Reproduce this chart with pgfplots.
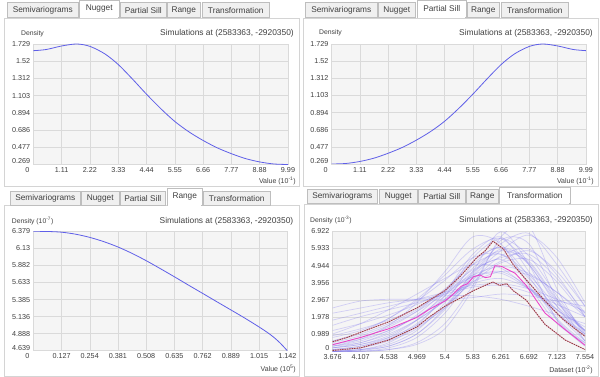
\documentclass[border=0pt]{standalone}
\usepackage{fontspec}
\setmainfont{Liberation Sans}
\usepackage{pgfplots}
\usepackage{pgfplotstable}
\pgfplotsset{compat=1.18}
\definecolor{plotbg}{RGB}{245,245,245}
\definecolor{gridc}{RGB}{218,218,218}
\definecolor{labc}{RGB}{64,64,64}
\definecolor{curve}{RGB}{95,95,232}
\definecolor{simc}{RGB}{125,115,240}
\definecolor{brn}{RGB}{140,60,60}
\definecolor{pinkish}{RGB}{220,150,175}
\definecolor{mag}{RGB}{235,65,200}
\definecolor{tabfill}{RGB}{240,240,240}
\definecolor{tabline}{RGB}{190,190,190}
\definecolor{framec}{RGB}{212,212,212}

\pgfplotsset{panel/.style={scale only axis, anchor=south west,
  axis background/.style={fill=plotbg},
  grid=major, major grid style={draw=gridc, line width=0.5pt},
  axis line style={draw=gridc, line width=0.5pt},
  major tick length=0pt, tick style={draw=none},
  tick label style={font=\fontsize{7.2}{8}\selectfont, text=labc, inner sep=1pt},
  xticklabel style={yshift=-2pt}, yticklabel style={xshift=-2pt},
  /pgf/number format/assume math mode=true}}

\tikzset{tab/.style={draw=tabline, line width=0.5pt, fill=tabfill, anchor=south west, inner sep=0pt,
  font=\fontsize{8.3}{10}\selectfont, text=labc},
  lab/.style={inner sep=0pt, text=labc}}

\pgfplotstableread{
x nug
0 1.648
0.5 1.662
1.11 1.705
1.7 1.729
2.22 1.700
2.8 1.610
3.33 1.480
3.9 1.300
4.44 1.120
5.0 0.945
5.55 0.790
6.1 0.665
6.66 0.560
7.22 0.470
7.77 0.400
8.33 0.340
8.88 0.300
9.44 0.275
9.99 0.269
}\nugtab

\pgfplotstableread{
x ps
0 0.269
0.55 0.275
1.11 0.300
1.66 0.340
2.22 0.400
2.77 0.470
3.33 0.560
3.89 0.665
4.44 0.790
4.99 0.945
5.55 1.120
6.09 1.300
6.66 1.480
7.19 1.610
7.77 1.700
8.29 1.729
8.88 1.705
9.49 1.662
9.99 1.648
}\pstab

\pgfplotstableread{
x rg
0 6.379
0.063 6.3765
0.127 6.366
0.19 6.337
0.254 6.290
0.317 6.228
0.381 6.150
0.444 6.057
0.508 5.950
0.571 5.835
0.635 5.715
0.698 5.594
0.762 5.473
0.825 5.353
0.889 5.232
0.952 5.112
1.015 4.985
1.05 4.910
1.08 4.838
1.11 4.750
1.142 4.639
}\rgtab

\pgfplotstableread{
x c1 c2 c3 c4 c5 c6 c7 c8 c9 c10 c11 c12 c13 c14 c15 c16 c17 c18 c19 c20 c21 c22 c23 c24 c25 c26 c27 c28 c29 c30
3.676 0.0 0.1 0.4 0.9 0.2 1.5 0.0 0.6 0.3 2.5 0.0 1.0 0.1 0.8 0.2 1.8 0.0 0.5 0.3 0.0 0.0 0.3 0.6 0.0 1.2 0.2 2.2 0.1 0.4 0.0
4.107 0.05 0.3 0.8 1.3 0.5 2.0 0.1 1.0 0.6 2.9 0.2 1.6 0.2 1.2 0.4 2.2 0.1 0.9 0.5 0.0 0.0 0.7 1.1 0.1 1.6 0.4 2.5 0.3 0.7 0.0
4.538 0.3 0.8 1.4 1.8 1.1 2.4 0.5 1.6 1.2 3.0 0.7 2.4 0.6 1.9 0.9 2.6 0.3 1.5 1.0 0.1 0.1 1.5 1.9 0.4 2.1 0.8 2.8 0.7 1.2 0.2
4.969 1.0 1.8 2.3 2.5 2.1 2.8 1.5 2.4 2.0 3.0 1.6 3.3 1.3 2.9 1.8 3.0 1.0 2.3 1.8 0.5 0.4 2.8 3.0 1.2 2.7 1.5 3.0 1.4 2.0 0.8
5.4 2.5 3.4 3.6 3.4 3.5 3.3 3.2 3.5 3.0 3.0 3.0 4.2 2.6 4.1 2.9 3.4 2.4 3.3 2.9 1.6 1.3 4.6 4.4 2.8 3.5 2.6 3.2 2.5 3.2 2.2
5.83 4.6 5.6 5.0 4.3 5.2 3.7 5.4 4.7 4.0 3.1 4.6 5.0 4.5 5.4 3.9 3.8 4.4 4.3 4.2 3.8 3.6 6.6 5.9 5.0 4.4 4.0 3.2 4.1 4.8 4.3
6.261 6.9 6.6 5.6 4.5 6.0 3.8 6.5 5.4 4.6 3.3 5.3 4.8 6.2 5.6 4.2 3.9 5.9 4.6 5.2 6.4 6.6 6.2 6.5 6.0 4.9 5.1 3.0 5.5 5.8 5.8
6.692 5.0 4.6 4.4 3.6 5.2 3.4 5.5 5.6 4.4 3.2 4.0 3.6 6.8 4.2 3.6 3.6 5.0 3.7 5.8 6.2 7.2 3.8 5.0 4.3 4.5 5.3 2.6 5.9 5.1 6.7
7.123 1.8 2.2 2.6 2.4 3.0 2.7 3.2 4.2 3.4 2.9 1.8 2.2 5.0 2.4 2.4 3.0 2.6 2.2 4.6 3.0 3.6 1.6 2.8 1.9 3.4 4.0 2.1 4.4 2.9 5.4
7.554 0.3 0.6 1.2 1.4 1.2 2.0 1.0 2.2 2.0 2.6 0.4 1.0 2.6 1.0 1.2 2.3 0.6 0.9 2.6 0.6 0.8 0.5 1.2 0.5 2.2 2.0 1.6 2.0 1.1 2.8
}\simtab

\pgfplotstableread{
x y
3.676 0.55
3.9 0.80
4.107 1.10
4.538 1.70
4.969 2.50
5.4 3.50
5.63 4.30
5.89 5.40
6.02 5.80
6.14 6.35
6.3 5.90
6.45 5.00
6.69 3.95
6.94 2.90
7.2 1.90
7.4 1.30
7.554 0.87
}\uptab

\pgfplotstableread{
x y
3.676 0.05
4.107 0.20
4.538 0.65
4.969 1.40
5.15 1.95
5.4 2.60
5.65 3.10
5.84 3.50
6.04 3.84
6.14 4.00
6.24 3.80
6.35 3.90
6.45 3.50
6.65 2.95
6.94 1.55
7.25 0.65
7.554 0.10
}\lotab

\pgfplotstableread{
x y
3.676 0.38
4.107 0.80
4.538 1.30
4.969 1.95
5.15 2.40
5.4 2.90
5.5 3.20
5.65 3.75
5.75 3.90
5.84 4.30
5.94 4.40
6.02 4.25
6.1 4.30
6.17 4.94
6.27 4.90
6.375 4.70
6.48 4.50
6.65 3.80
6.94 2.20
7.25 1.25
7.554 0.35
}\magtab

\begin{document}
\begin{tikzpicture}
\path[use as bounding box] (0pt,0pt) rectangle (600pt,377pt);
% panel frames
\draw[framec, fill=white, line width=0.6pt] (4pt,191pt) rectangle (299pt,359pt);
\draw[framec, fill=white, line width=0.6pt] (303pt,191pt) rectangle (598pt,359pt);
\draw[framec, fill=white, line width=0.6pt] (4pt,1pt) rectangle (299pt,171.5pt);
\draw[framec, fill=white, line width=0.6pt] (304pt,1pt) rectangle (598pt,173pt);

% tabs panel 1
\node[tab, minimum width=71pt, minimum height=15.3pt] at (7pt,359pt) {Semivariograms};
\node[tab, fill=white, minimum width=40pt, minimum height=17.5pt] at (79pt,359pt) {Nugget};
\draw[white, line width=1pt] (79.6pt,359pt) -- (118.4pt,359pt);
\node[tab, minimum width=46pt, minimum height=15.3pt] at (120pt,359pt) {Partial Sill};
\node[tab, minimum width=33pt, minimum height=15.3pt] at (167pt,359pt) {Range};
\node[tab, minimum width=67pt, minimum height=15.3pt] at (202pt,359pt) {Transformation};
% tabs panel 2
\node[tab, minimum width=72pt, minimum height=15.3pt] at (305pt,359pt) {Semivariograms};
\node[tab, minimum width=37pt, minimum height=15.3pt] at (378pt,359pt) {Nugget};
\node[tab, fill=white, minimum width=49pt, minimum height=17.5pt] at (417pt,359pt) {Partial Sill};
\draw[white, line width=1pt] (417.6pt,359pt) -- (465.4pt,359pt);
\node[tab, minimum width=32pt, minimum height=15.3pt] at (467pt,359pt) {Range};
\node[tab, minimum width=67pt, minimum height=15.3pt] at (501pt,359pt) {Transformation};
% tabs panel 3
\node[tab, minimum width=70pt, minimum height=14.3pt] at (10pt,171.5pt) {Semivariograms};
\node[tab, minimum width=38pt, minimum height=14.3pt] at (81pt,171.5pt) {Nugget};
\node[tab, minimum width=45pt, minimum height=14.3pt] at (120pt,171.5pt) {Partial Sill};
\node[tab, fill=white, minimum width=35pt, minimum height=17.2pt] at (167pt,171.5pt) {Range};
\draw[white, line width=1pt] (167.6pt,171.5pt) -- (201.4pt,171.5pt);
\node[tab, minimum width=67pt, minimum height=14.3pt] at (203pt,171.5pt) {Transformation};
% tabs panel 4
\node[tab, minimum width=70pt, minimum height=14.3pt] at (307pt,173pt) {Semivariograms};
\node[tab, minimum width=38pt, minimum height=14.3pt] at (379pt,173pt) {Nugget};
\node[tab, minimum width=47pt, minimum height=14.3pt] at (418pt,173pt) {Partial Sill};
\node[tab, minimum width=32pt, minimum height=14.3pt] at (466pt,173pt) {Range};
\node[tab, fill=white, minimum width=71pt, minimum height=16pt] at (499pt,173pt) {Transformation};
\draw[white, line width=1pt] (499.6pt,173pt) -- (569.4pt,173pt);

% ---------- Panel 1: Nugget
\begin{axis}[panel, at={(33.4pt,212.5pt)}, width=254.6pt, height=120.5pt,
  xmin=0, xmax=9.99, ymin=0.269, ymax=1.729,
  xtick={0,1.11,2.22,3.33,4.44,5.55,6.66,7.77,8.88,9.99},
  xticklabels={\llap{0\hspace{4pt}},1.11,2.22,3.33,4.44,5.55,6.66,7.77,8.88,9.99},
  ytick={0.269,0.4776,0.6861,0.8947,1.1033,1.3119,1.5204,1.729},
  yticklabels={\raisebox{3pt}[\height][\depth]{0.269},0.477,0.686,0.894,1.103,1.312,1.52,1.729}]
\addplot[curve, line width=0.8pt, smooth] table[x=x,y=nug]{\nugtab};
\end{axis}

% ---------- Panel 2: Partial Sill
\begin{axis}[panel, at={(331.7pt,213pt)}, width=254.3pt, height=120pt,
  xmin=0, xmax=9.99, ymin=0.269, ymax=1.729,
  xtick={0,1.11,2.22,3.33,4.44,5.55,6.66,7.77,8.88,9.99},
  xticklabels={\llap{0\hspace{4pt}},1.11,2.22,3.33,4.44,5.55,6.66,7.77,8.88,9.99},
  ytick={0.269,0.4776,0.6861,0.8947,1.1033,1.3119,1.5204,1.729},
  yticklabels={\raisebox{3pt}[\height][\depth]{0.269},0.477,0.686,0.894,1.103,1.312,1.52,1.729}]
\addplot[curve, line width=0.8pt, smooth] table[x=x,y=ps]{\pstab};
\end{axis}

% ---------- Panel 3: Range
\begin{axis}[panel, at={(33.3pt,26.3pt)}, width=254pt, height=119.4pt,
  xmin=0, xmax=1.142, ymin=4.639, ymax=6.379,
  xtick={0,0.1269,0.2538,0.3807,0.5076,0.6344,0.7613,0.8882,1.0151,1.142},
  xticklabels={\llap{0\hspace{4pt}},0.127,0.254,0.381,0.508,0.635,0.762,0.889,1.015,1.142},
  ytick={4.639,4.8876,5.1361,5.3847,5.6333,5.8819,6.1304,6.379},
  yticklabels={\raisebox{3pt}[\height][\depth]{4.639},4.888,5.136,5.385,5.633,5.882,6.13,6.379}]
\addplot[curve, line width=0.8pt, smooth] table[x=x,y=rg]{\rgtab};
\end{axis}

% ---------- Panel 4: Transformation
\begin{axis}[panel, at={(332.7pt,25.7pt)}, width=252.3pt, height=120pt,
  xmin=3.676, xmax=7.554, ymin=0, ymax=6.922,
  xtick={3.676,4.1069,4.5378,4.9687,5.3996,5.8304,6.2613,6.6922,7.1231,7.554},
  xticklabels={3.676,4.107,4.538,4.969,5.4,5.83,6.261,6.692,7.123,7.554},
  ytick={0,0.9889,1.9777,2.9666,3.9554,4.9443,5.9331,6.922},
  yticklabels={\raisebox{3pt}[\height][\depth]{0},0.989,1.978,2.967,3.956,4.944,5.933,6.922}]
\pgfplotsinvokeforeach{1,...,30}{
  \addplot[simc, draw opacity=0.3, line width=0.7pt, smooth] table[x=x,y=c#1]{\simtab};
}
\addplot[mag, line width=0.85pt] table[x=x,y=y]{\magtab};
\addplot[pinkish, line width=0.85pt] table[x=x,y=y]{\uptab};
\addplot[brn, line width=0.85pt, dash pattern=on 1.2pt off 1.2pt] table[x=x,y=y]{\uptab};
\addplot[pinkish, line width=0.85pt] table[x=x,y=y]{\lotab};
\addplot[brn, line width=0.85pt, dash pattern=on 1.2pt off 1.2pt] table[x=x,y=y]{\lotab};
\end{axis}

% ---------- texts
\node[lab, font=\fontsize{6.8}{8}\selectfont] at (32.5pt,343.7pt) {Density};
\node[lab, anchor=east, font=\fontsize{8.4}{10}\selectfont] at (294pt,343.7pt) {Simulations at (2583363, -2920350)};
\node[lab, anchor=east, font=\fontsize{7}{8}\selectfont] at (296pt,195.5pt) {Value (10\textsuperscript{-1})};

\node[lab, font=\fontsize{6.8}{8}\selectfont] at (330.5pt,343.9pt) {Density};
\node[lab, anchor=east, font=\fontsize{8.4}{10}\selectfont] at (593pt,344pt) {Simulations at (2583363, -2920350)};
\node[lab, anchor=east, font=\fontsize{7}{8}\selectfont] at (594pt,196pt) {Value (10\textsuperscript{-1})};

\node[lab, anchor=west, font=\fontsize{6.8}{8}\selectfont] at (11.7pt,156pt) {Density (10\textsuperscript{-7})};
\node[lab, anchor=east, font=\fontsize{8.4}{10}\selectfont] at (293.5pt,156pt) {Simulations at (2583363, -2920350)};
\node[lab, anchor=east, font=\fontsize{7}{8}\selectfont] at (296pt,8.3pt) {Value (10\textsuperscript{5})};

\node[lab, anchor=west, font=\fontsize{6.8}{8}\selectfont] at (310pt,156.7pt) {Density (10\textsuperscript{-3})};
\node[lab, anchor=east, font=\fontsize{8.4}{10}\selectfont] at (593pt,156.7pt) {Simulations at (2583363, -2920350)};
\node[lab, anchor=east, font=\fontsize{7}{8}\selectfont] at (593pt,7.3pt) {Dataset (10\textsuperscript{-2})};
\end{tikzpicture}
\end{document}
